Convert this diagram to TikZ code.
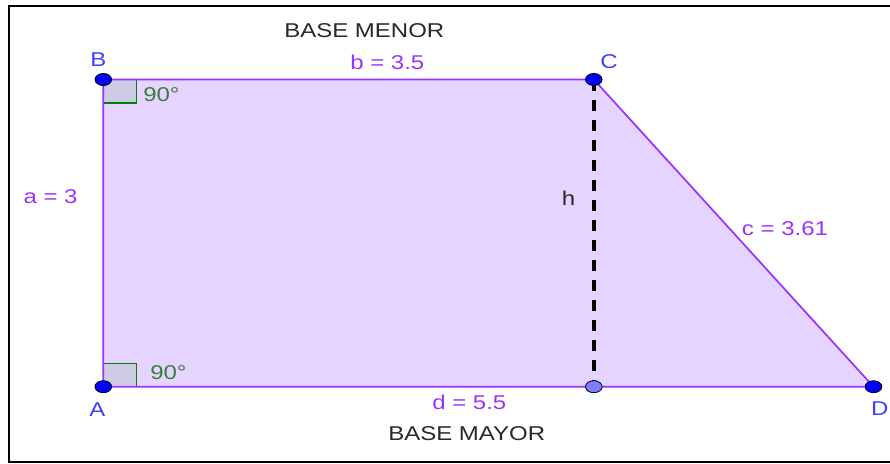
\documentclass[tikz,border=0pt]{standalone}
\usepackage{fontspec}
\setmainfont{Liberation Sans}[FakeStretch=1.2]
\usetikzlibrary{shapes.geometric}

\definecolor{ggbfill}{RGB}{229,212,255}
\definecolor{ggbedge}{RGB}{153,51,255}
\definecolor{ptblue}{RGB}{0,0,255}
\definecolor{ptlabel}{RGB}{64,64,255}
\definecolor{footblue}{RGB}{125,125,255}
\definecolor{anglegreen}{RGB}{0,127,0}
\definecolor{anglefill}{RGB}{206,203,230}
\definecolor{angletext}{RGB}{60,125,60}
\definecolor{basetext}{RGB}{40,40,40}

\begin{document}
\begin{tikzpicture}[
  x=0.75pt, y=-0.75pt,
  font=\fontsize{15}{17}\selectfont,
  vertex/.style={ellipse, draw=black, fill=ptblue, line width=0.6pt,
    minimum width=12.5pt, minimum height=9pt, inner sep=0pt},
  foot/.style={vertex, fill=footblue},
  ptname/.style={text=ptlabel, anchor=base, inner sep=0pt},
  sidelbl/.style={text=ggbedge, anchor=base west, inner sep=0pt},
  baselbl/.style={text=basetext, anchor=base west, inner sep=0pt},
  rightang/.style={draw=anglegreen, fill=anglefill, line width=0.9pt},
  anglbl/.style={text=angletext, anchor=base west, inner sep=0pt}
]
\useasboundingbox (0,0) rectangle (890,464);

% frame
\draw[line width=2.2pt] (892,6) -- (9,6) -- (9,462) -- (892,462);

% corners of the trapezoid
\coordinate (a) at (103.3,386.7);
\coordinate (b) at (103.3,79.5);
\coordinate (c) at (593.8,79.5);
\coordinate (d) at (873.5,386.7);
\coordinate (h) at (593.8,386.7);

\fill[ggbfill] (a) -- (b) -- (c) -- (d) -- cycle;

% right angles
\draw[rightang] (b) rectangle (136.7,103);
\draw[rightang] (a) rectangle (136.7,363.5);

\draw[ggbedge, line width=1.3pt, line join=round] (a) -- (b) -- (c) -- (d) -- cycle;

% height
\draw[black, line width=2.8pt, dash pattern=on 8.5pt off 6.5pt] (c) -- (h);

% points
\node[vertex] (B) at (b) {};
\node[vertex] (A) at (a) {};
\node[vertex] (C) at (c) {};
\node[vertex] (D) at (d) {};
\node[foot]   (H) at (h) {};

% point names
\node[ptname] (nB) at (98.3,66.7)  {B};
\node[ptname] (nC) at (609,68.3)   {C};
\node[ptname] (nA) at (97.5,416.7) {A};
\node[ptname] (nD) at (879.7,415)  {D};

% sides
\node[sidelbl] (lb) at (350,69)    {b = 3.5};
\node[sidelbl] (la) at (23.3,203)  {a = 3};
\node[sidelbl] (lc) at (741.7,235.7) {c = 3.61};
\node[sidelbl] (ld) at (432,409)   {d = 5.5};
\node[baselbl] (lh) at (561.7,205) {h};

% angle values
\node[anglbl] (g1) at (143,101.7) {90°};
\node[anglbl] (g2) at (150,379.3) {90°};

% bases
\node[baselbl] (bm) at (284,37.3)  {BASE MENOR};
\node[baselbl] (bM) at (388,440.7) {BASE MAYOR};

\end{tikzpicture}
\end{document}
